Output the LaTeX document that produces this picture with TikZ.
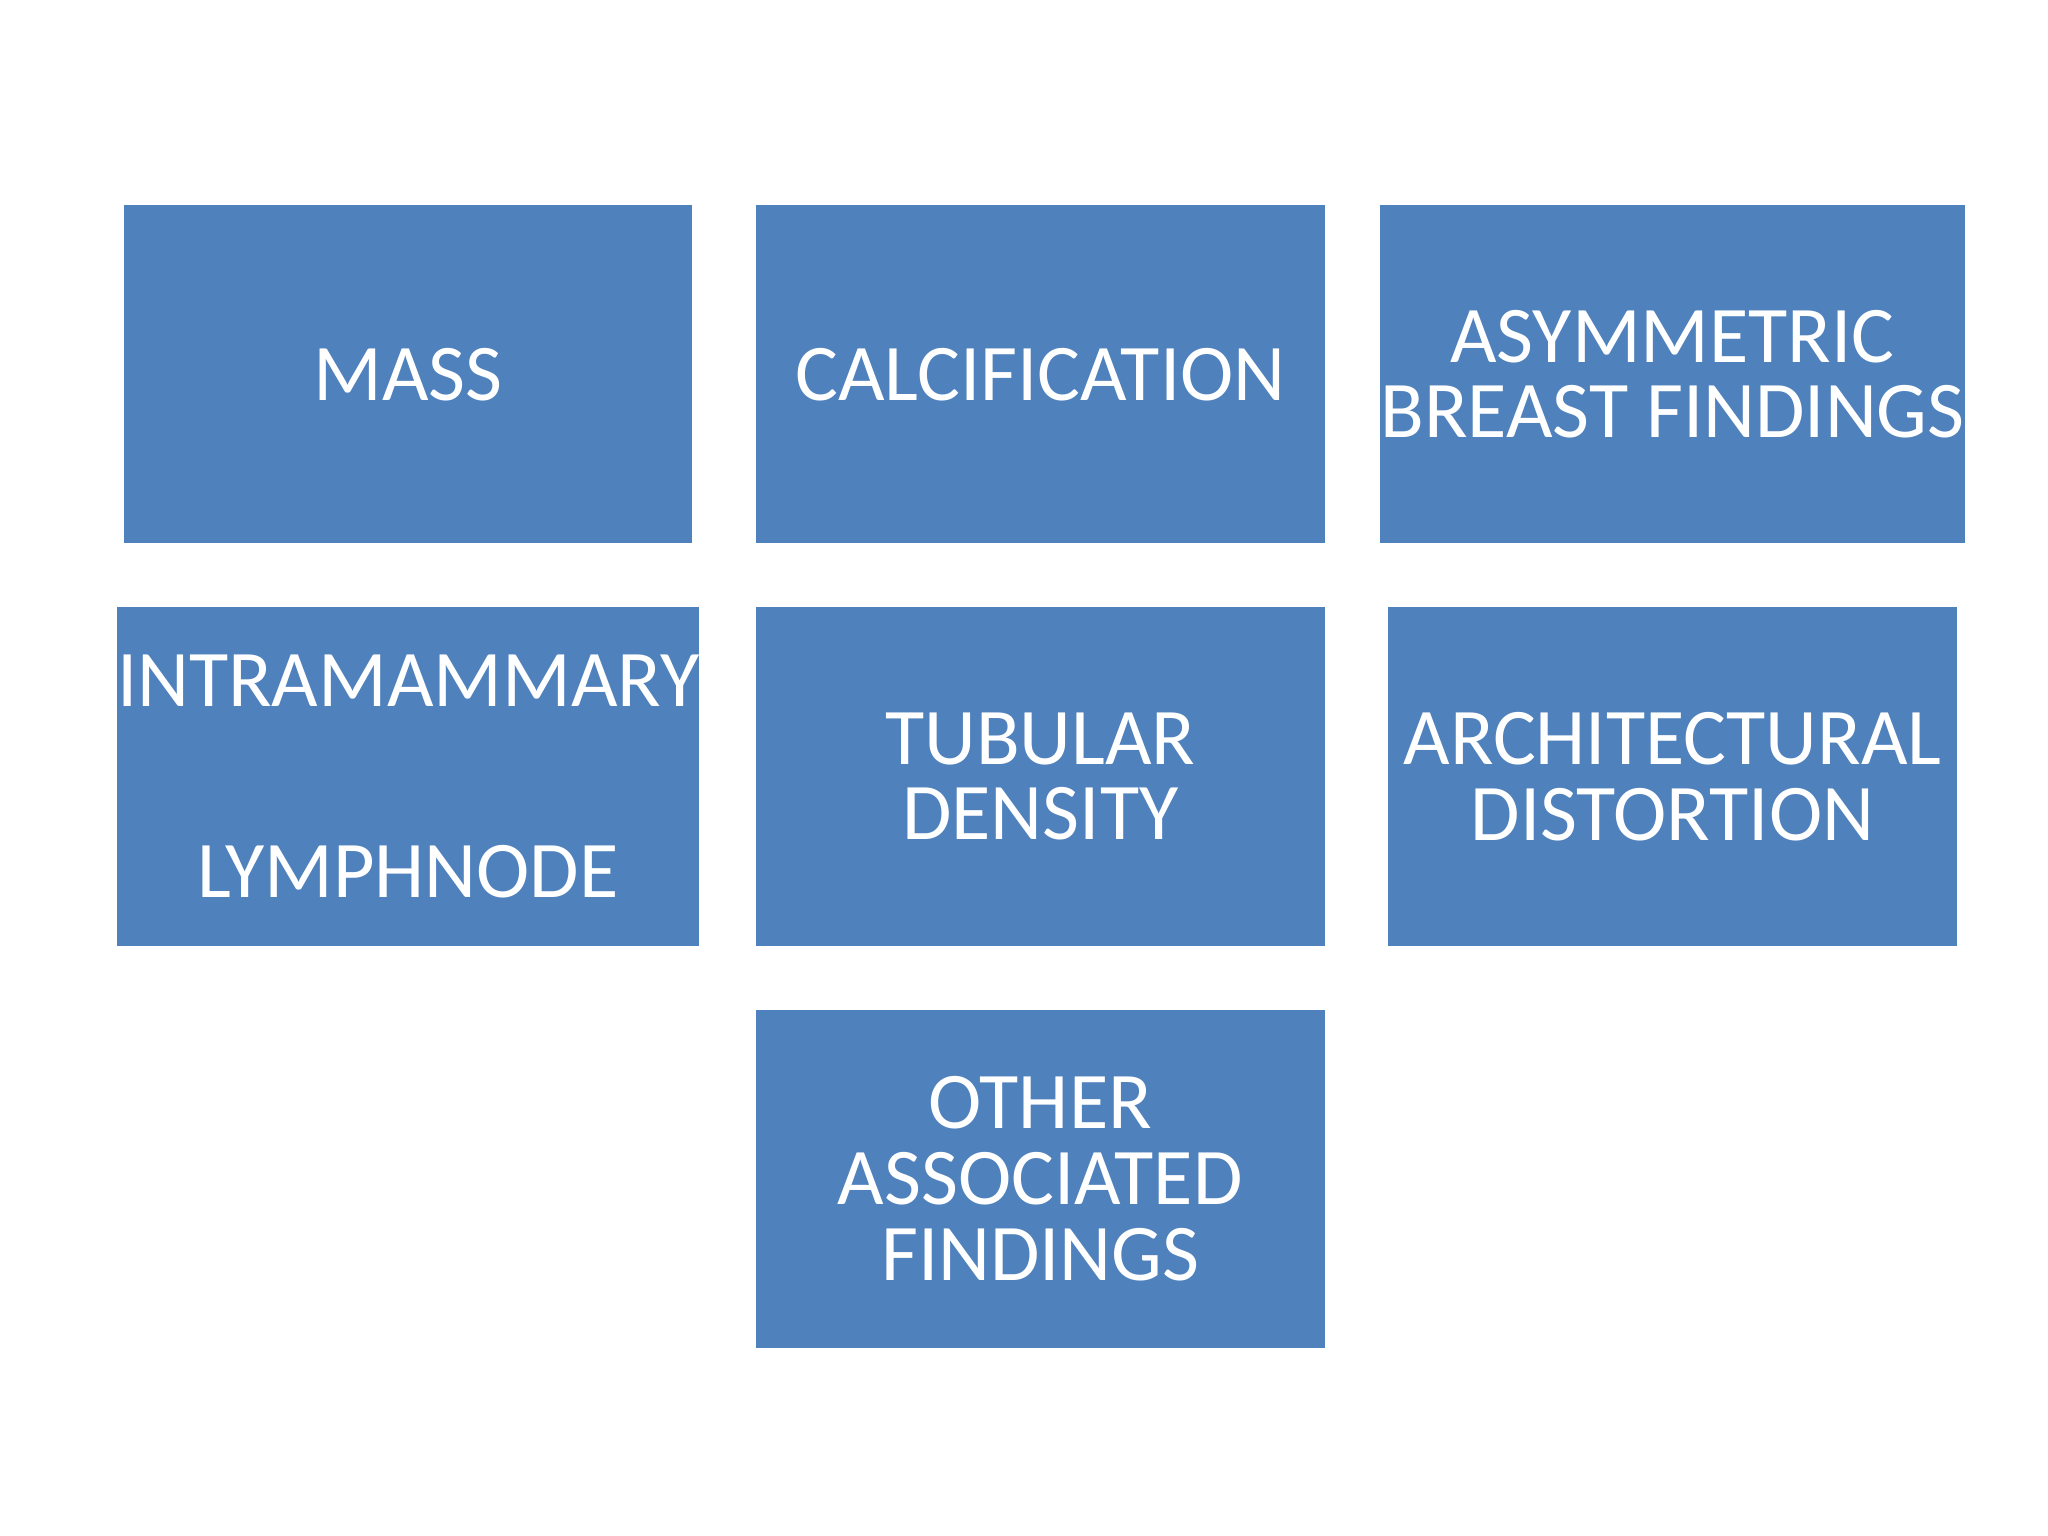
\documentclass[tikz,border=0pt]{standalone}
\usepackage{fontspec}
\setmainfont{Carlito}
\definecolor{boxblue}{HTML}{4F81BD}
\begin{document}
\begin{tikzpicture}[x=0.01cm,y=-0.01cm,
  cell/.style={fill=boxblue,draw=none,minimum width=4.35cm,minimum height=2.59cm,inner sep=0pt,
    text=white,align=center,font=\fontsize{17.5}{17.5}\selectfont}]
\useasboundingbox (0,0) rectangle (1568,1176);
\node[cell] (mass) at (312.5,286.5) {MASS};
\node[cell] (calc) at (796.5,286.5) {CALCIFICATION};
\node[cell] (asym) at (1280.5,286.5) {ASYMMETRIC\\[-1pt]BREAST FINDINGS};
\node[cell] (intra) at (312.5,594.5) {INTRAMAMMARY\\[24pt]LYMPHNODE};
\node[cell] (tub) at (796.5,594.5) {TUBULAR\\[-1pt]DENSITY};
\node[cell] (arch) at (1280.5,594.5) {ARCHITECTURAL\\[-1pt]DISTORTION};
\node[cell] (other) at (796.5,902.5) {OTHER\\[-1pt]ASSOCIATED\\[-1pt]FINDINGS};
\end{tikzpicture}
\end{document}
